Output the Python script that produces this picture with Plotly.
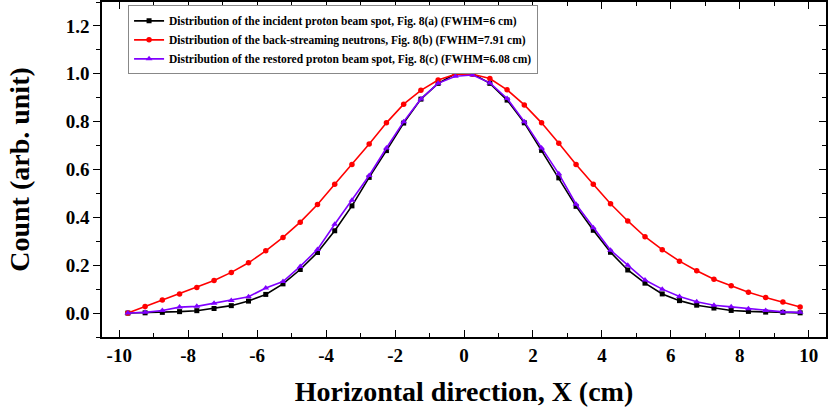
import plotly.graph_objects as go

x_cm = [-9.75, -9.25, -8.75, -8.25, -7.75, -7.25, -6.75, -6.25, -5.75, -5.25,
        -4.75, -4.25, -3.75, -3.25, -2.75, -2.25, -1.75, -1.25, -0.75, -0.25,
        0.25, 0.75, 1.25, 1.75, 2.25, 2.75, 3.25, 3.75, 4.25, 4.75,
        5.25, 5.75, 6.25, 6.75, 7.25, 7.75, 8.25, 8.75, 9.25, 9.75]

incident = [0.000, 0.001, 0.003, 0.006, 0.010, 0.019, 0.031, 0.050, 0.078, 0.122,
            0.182, 0.253, 0.344, 0.448, 0.567, 0.679, 0.794, 0.894, 0.960, 1.000,
            1.000, 0.960, 0.890, 0.795, 0.680, 0.565, 0.446, 0.346, 0.254, 0.180,
            0.125, 0.080, 0.052, 0.033, 0.021, 0.011, 0.007, 0.004, 0.003, 0.001]

neutrons = [0.000, 0.027, 0.055, 0.080, 0.107, 0.136, 0.170, 0.210, 0.260, 0.316,
            0.380, 0.454, 0.538, 0.621, 0.707, 0.795, 0.873, 0.931, 0.974, 0.998,
            0.998, 0.980, 0.933, 0.870, 0.795, 0.710, 0.621, 0.538, 0.457, 0.385,
            0.319, 0.265, 0.217, 0.177, 0.141, 0.114, 0.087, 0.065, 0.046, 0.025]

restored = [0.000, 0.003, 0.011, 0.025, 0.028, 0.041, 0.053, 0.068, 0.105, 0.132,
            0.195, 0.266, 0.371, 0.471, 0.575, 0.690, 0.800, 0.895, 0.960, 0.990,
            0.995, 0.962, 0.897, 0.800, 0.690, 0.582, 0.455, 0.357, 0.263, 0.200,
            0.138, 0.100, 0.069, 0.047, 0.033, 0.026, 0.018, 0.011, 0.005, 0.003]

names = [
    "Distribution of the incident proton beam spot, Fig. 8(a) (FWHM=6 cm)",
    "Distribution of the back-streaming neutrons, Fig. 8(b) (FWHM=7.91 cm)",
    "Distribution of the restored proton beam spot, Fig. 8(c) (FWHM=6.08 cm)",
]

x_tick_vals = [-10, -8, -6, -4, -2, 0, 2, 4, 6, 8, 10]
x_tick_text = ["-10", "-8", "-6", "-4", "-2", "0", "2", "4", "6", "8", "10"]

FONT = "Liberation Serif"

fig = go.Figure()
fig.add_trace(go.Scatter(x=x_cm, y=incident, name=names[0], mode="lines+markers",
                         line=dict(color="#000000", width=1.6),
                         marker=dict(symbol="square", size=5, color="#000000")))
fig.add_trace(go.Scatter(x=x_cm, y=neutrons, name=names[1], mode="lines+markers",
                         line=dict(color="#ff0000", width=1.6),
                         marker=dict(symbol="circle", size=5.5, color="#ff0000")))
fig.add_trace(go.Scatter(x=x_cm, y=restored, name=names[2], mode="lines+markers",
                         line=dict(color="#8000ff", width=1.6),
                         marker=dict(symbol="triangle-up", size=6, color="#8000ff")))
# empty trace to activate the right-hand mirror axis
fig.add_trace(go.Scatter(x=[], y=[], yaxis="y2", showlegend=False, hoverinfo="skip"))

fig.update_layout(
    width=828, height=416,
    margin=dict(l=102, r=0, t=1, b=79),
    paper_bgcolor="white", plot_bgcolor="white",
    font=dict(family=FONT, color="black"),
    showlegend=True,
    legend=dict(x=0.036, y=0.99, xanchor="left", yanchor="top",
                bgcolor="white", bordercolor="#888888", borderwidth=1,
                font=dict(family=FONT, size=11.5, color="black", weight="bold"),
                tracegroupgap=0),
    xaxis=dict(range=[-10.5, 10.5], tickmode="array",
               tickvals=x_tick_vals, ticktext=x_tick_text,
               ticks="inside", ticklen=7, tickwidth=1.2, tickcolor="black",
               minor=dict(dtick=1, tick0=0, ticks="inside", ticklen=4, tickwidth=1.2, tickcolor="black"),
               showline=True, linecolor="black", linewidth=1.5, mirror="ticks",
               showgrid=False, zeroline=False,
               tickfont=dict(family=FONT, size=19, color="black", weight="bold"),
               title=dict(text="Horizontal direction, X (cm)", standoff=17,
                          font=dict(family=FONT, size=28, color="black", weight="bold"))),
    yaxis=dict(range=[-0.1, 1.3], tick0=0, dtick=0.2, tickformat=".1f",
               ticks="outside", ticklen=7, tickwidth=1.2, tickcolor="black",
               minor=dict(dtick=0.1, ticks="outside", ticklen=4, tickwidth=1.2, tickcolor="black"),
               showline=True, linecolor="black", linewidth=1.5, mirror=True,
               showgrid=False, zeroline=False,
               tickfont=dict(family=FONT, size=19, color="black", weight="bold"),
               title=dict(text="Count (arb. unit)", standoff=28,
                          font=dict(family=FONT, size=28, color="black", weight="bold"))),
    yaxis2=dict(overlaying="y", side="right", range=[-0.1, 1.3], tick0=0, dtick=0.2,
                ticks="inside", ticklen=7, tickwidth=1.2, tickcolor="black",
                minor=dict(dtick=0.1, ticks="inside", ticklen=4, tickwidth=1.2, tickcolor="black"),
                showticklabels=False, showline=False, showgrid=False, zeroline=False),
)

fig.write_html("out.html")
